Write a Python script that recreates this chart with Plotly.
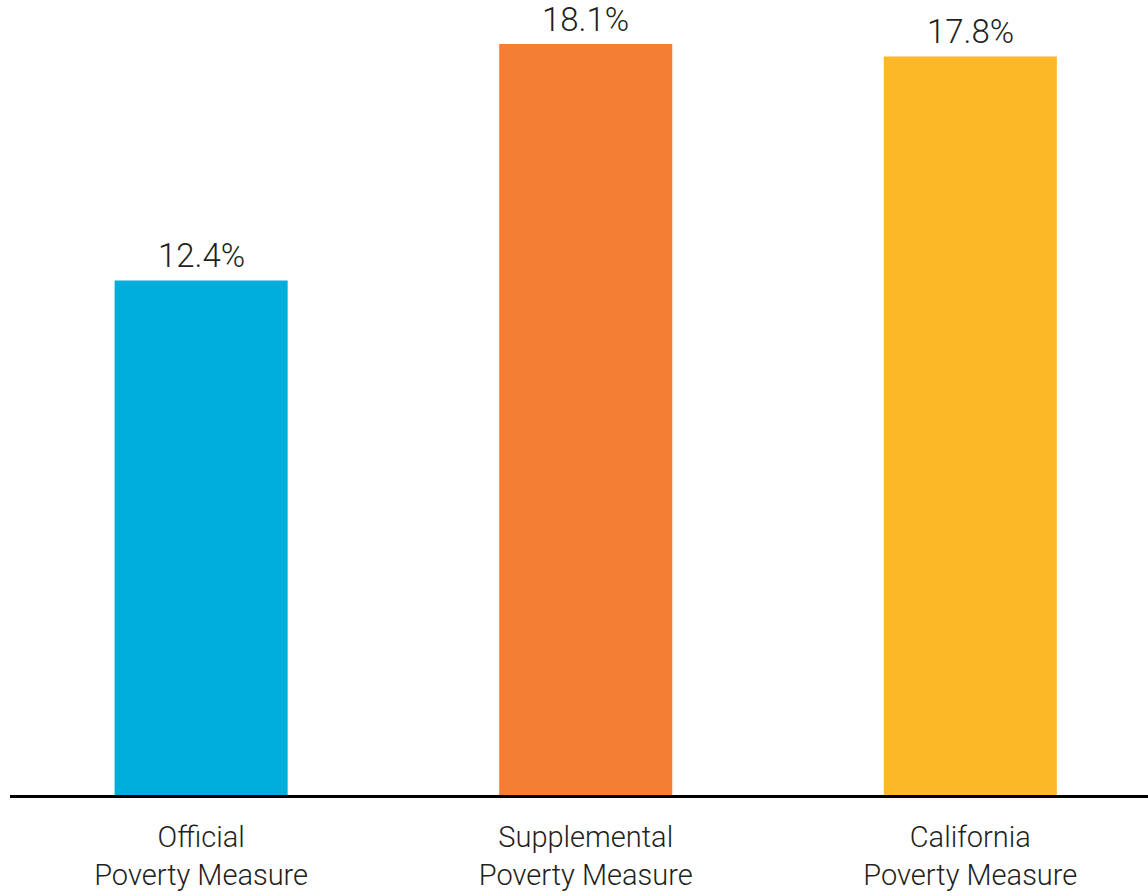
import plotly.graph_objects as go

categories = ["Official<br>Poverty Measure", "Supplemental<br>Poverty Measure", "California<br>Poverty Measure"]
values = [12.4, 18.1, 17.8]
value_labels = ["12.4%", "18.1%", "17.8%"]
colors = ["#00AEDB", "#F47F32", "#FDB827"]

FONT = "Roboto"
TEXT = "#231F20"

fig = go.Figure(go.Bar(
    x=[0, 1, 2], y=values, marker=dict(color=colors, line=dict(width=0)),
    width=0.45, hoverinfo="skip", cliponaxis=False,
))

for i, (v, t) in enumerate(zip(values, value_labels)):
    fig.add_annotation(x=i, y=v, text=t, showarrow=False, yanchor="bottom",
                       yshift=3, font=dict(family=FONT, size=33, color=TEXT, weight=300))

fig.update_layout(
    width=1148, height=896,
    margin=dict(l=10, r=0, t=0, b=101),
    paper_bgcolor="white", plot_bgcolor="white",
    showlegend=False,
    xaxis=dict(
        range=[-0.497, 2.462], tickmode="array", tickvals=[0, 1, 2], ticktext=categories,
        showline=True, linecolor="#000000", linewidth=3, showgrid=False, zeroline=False,
        ticks="outside", ticklen=14, tickcolor="rgba(0,0,0,0)", automargin=False,
        tickfont=dict(family=FONT, size=29, color=TEXT, weight=300),
    ),
    yaxis=dict(range=[0, 19.16], visible=False, showgrid=False, zeroline=False, automargin=False),
)

fig.write_html("out.html")
